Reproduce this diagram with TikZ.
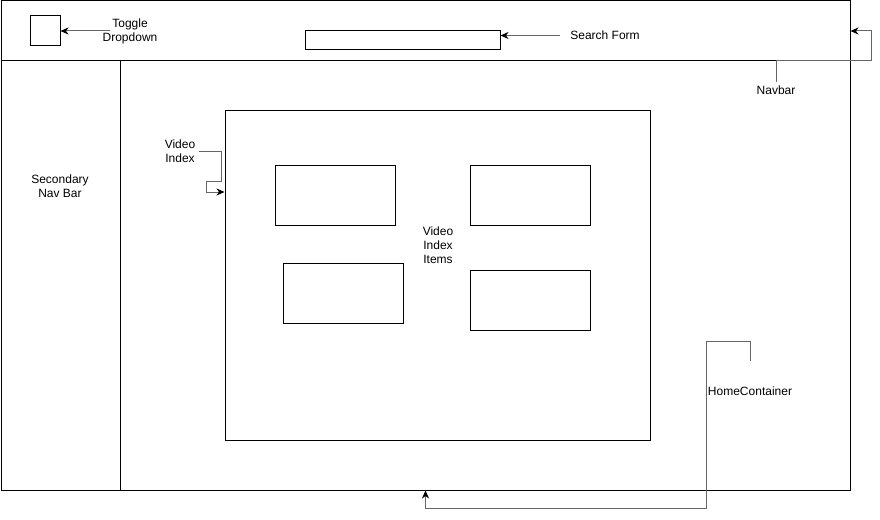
\documentclass[tikz,border=0pt]{standalone}
\usepackage{fontspec}
\setmainfont{Liberation Sans}
\usetikzlibrary{arrows.meta}
\definecolor{edgegray}{HTML}{666666}

\begin{document}
\begin{tikzpicture}[x=1pt,y=-1pt,line width=1pt,
    font=\fontsize{12}{14}\selectfont,
    conn/.style={draw=edgegray,-{Stealth[length=8pt,width=7pt,inset=2.5pt,color=black]}}]

        \useasboundingbox (0,0) rectangle (880,519);

        \begin{scope}[every node/.style={draw,rectangle,inner sep=0pt}]
          \node[minimum width=849pt,minimum height=489pt] (home)  at (425.5,245.5) {};
          \node[minimum width=849pt,minimum height=60pt]  (nav)   at (425.5,31)    {};
          \node[minimum width=119pt,minimum height=429pt] (side)  at (60.5,275.5)  {};
          \node[minimum width=30pt,minimum height=30pt]   (tog)   at (45,31)       {};
          \node[minimum width=195pt,minimum height=19pt]  (srch)  at (402.5,40.5)  {};
          \node[minimum width=425pt,minimum height=330pt] (vidx)  at (437.5,275)   {};
          \node[minimum width=120pt,minimum height=60pt]  (item1) at (335,195)     {};
          \node[minimum width=120pt,minimum height=60pt]  (item2) at (530,195)     {};
          \node[minimum width=120pt,minimum height=60pt]  (item3) at (343,293)     {};
          \node[minimum width=120pt,minimum height=60pt]  (item4) at (530,300)     {};
        \end{scope}

        \begin{scope}[every node/.style={align=center}]
          \node (toglbl)   at (130,31)  {Toggle\\Dropdown};
          \node (srchlbl)  at (605,35.5) {Search Form};
          \node (navlbl)   at (776,90)  {Navbar};
          \node (sidelbl)  at (60,186)  {Secondary\\Nav Bar};
          \node (vidxlbl)  at (180,151) {Video\\Index};
          \node (itemlbl)  at (438,245) {Video\\Index\\Items};
          \node (homelbl)  at (750,391) {HomeContainer};
        \end{scope}

        \begin{scope}[every edge/.style={conn}]
          \path ([xshift=11pt]toglbl.west) edge (tog.east);
          \path ([xshift=-6pt]srchlbl.west) edge (srchlbl.west -| srch.east);
        \end{scope}

        \draw[conn] (navlbl.north) |- (871,61) |- (nav.east);
        \draw[conn] (vidxlbl.east) -| (221,181) -| (206,192) -- (vidx.west |- 206,192);
        \draw[conn] ([yshift=22pt]homelbl.north) |- (706,341) -- (706,508) -| (home.south);

      \end{tikzpicture}
\end{document}
